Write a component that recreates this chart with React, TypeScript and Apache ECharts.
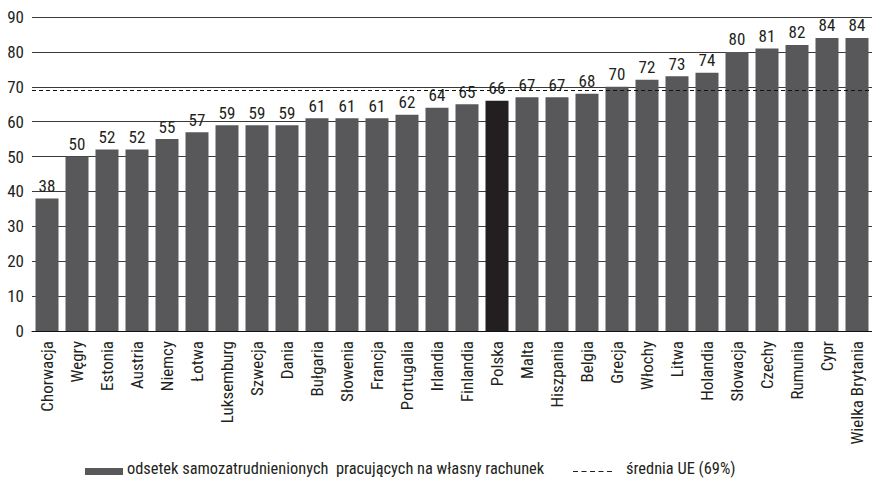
import React, { useEffect, useRef } from "react";
import * as echarts from "echarts";

const countries = [
  "Chorwacja", "Węgry", "Estonia", "Austria", "Niemcy", "Łotwa", "Luksemburg",
  "Szwecja", "Dania", "Bułgaria", "Słowenia", "Francja", "Portugalia", "Irlandia",
  "Finlandia", "Polska", "Malta", "Hiszpania", "Belgia", "Grecja", "Włochy",
  "Litwa", "Holandia", "Słowacja", "Czechy", "Rumunia", "Cypr", "Wielka Brytania",
];
const shares = [
  38, 50, 52, 52, 55, 57, 59, 59, 59, 61, 61, 61, 62, 64, 65, 66, 67, 67, 68, 70,
  72, 73, 74, 80, 81, 82, 84, 84,
];
const euAverage = 69;
const highlighted = "Polska";
const yTicks = { min: 0, max: 90, interval: 10 };
const legendBar = "odsetek samozatrudnienionych  pracujących na własny rachunek";
const legendLine = "średnia UE (69%)";

const FONT = "'Roboto Condensed', 'Liberation Sans Narrow', sans-serif";
const TEXT = "#231f20";
const BAR = "#58585a";
const BAR_HL = "#231f20";

export default function App() {
  const ref = useRef<HTMLDivElement>(null);
  useEffect(() => {
    document.body.style.margin = "0";
    if (!ref.current) return;
    const chart = echarts.init(ref.current, null, { renderer: "svg" });
    chart.setOption({
      animation: false,
      backgroundColor: "#ffffff",
      textStyle: { fontFamily: FONT },
      grid: { left: 32, width: 845, top: 17, bottom: 150, containLabel: false },
      xAxis: {
        type: "category",
        data: countries,
        axisTick: { show: false },
        axisLine: { lineStyle: { color: "#111", width: 1 } },
        axisLabel: {
          rotate: 90,
          interval: 0,
          margin: 10,
          fontSize: 17,
          color: TEXT,
          fontFamily: FONT,
        },
      },
      yAxis: {
        type: "value",
        min: yTicks.min,
        max: yTicks.max,
        interval: yTicks.interval,
        axisLine: { show: false },
        axisTick: { show: false },
        splitLine: { lineStyle: { color: "#3a3a3a", width: 1 } },
        axisLabel: { fontSize: 17, color: TEXT, margin: 8, fontFamily: FONT },
      },
      series: [
        {
          type: "bar",
          data: shares.map((v, i) => ({
            value: v,
            itemStyle: { color: countries[i] === highlighted ? BAR_HL : BAR },
          })),
          barWidth: 23,
          label: {
            show: true,
            position: "top",
            distance: 4,
            fontSize: 17,
            color: TEXT,
            fontFamily: FONT,
          },
          markLine: {
            silent: true,
            symbol: "none",
            label: { show: false },
            lineStyle: { type: [4, 3], color: "#111", width: 1 },
            data: [{ yAxis: euAverage }],
          },
        },
      ],
      graphic: [
        { type: "rect", left: 85, top: 468, shape: { width: 38, height: 7 }, style: { fill: BAR } },
        {
          type: "text",
          left: 127,
          top: 460,
          style: { text: legendBar, font: `16.4px ${FONT}`, fill: TEXT },
        },
        {
          type: "line",
          shape: { x1: 573, y1: 471.5, x2: 613, y2: 471.5 },
          style: { stroke: TEXT, lineWidth: 1.2, lineDash: [5, 3.5] },
        },
        {
          type: "text",
          left: 626,
          top: 460,
          style: { text: legendLine, font: `16.4px ${FONT}`, fill: TEXT },
        },
      ],
    });
    return () => chart.dispose();
  }, []);
  return <div ref={ref} style={{ width: 872, height: 481 }} />;
}
